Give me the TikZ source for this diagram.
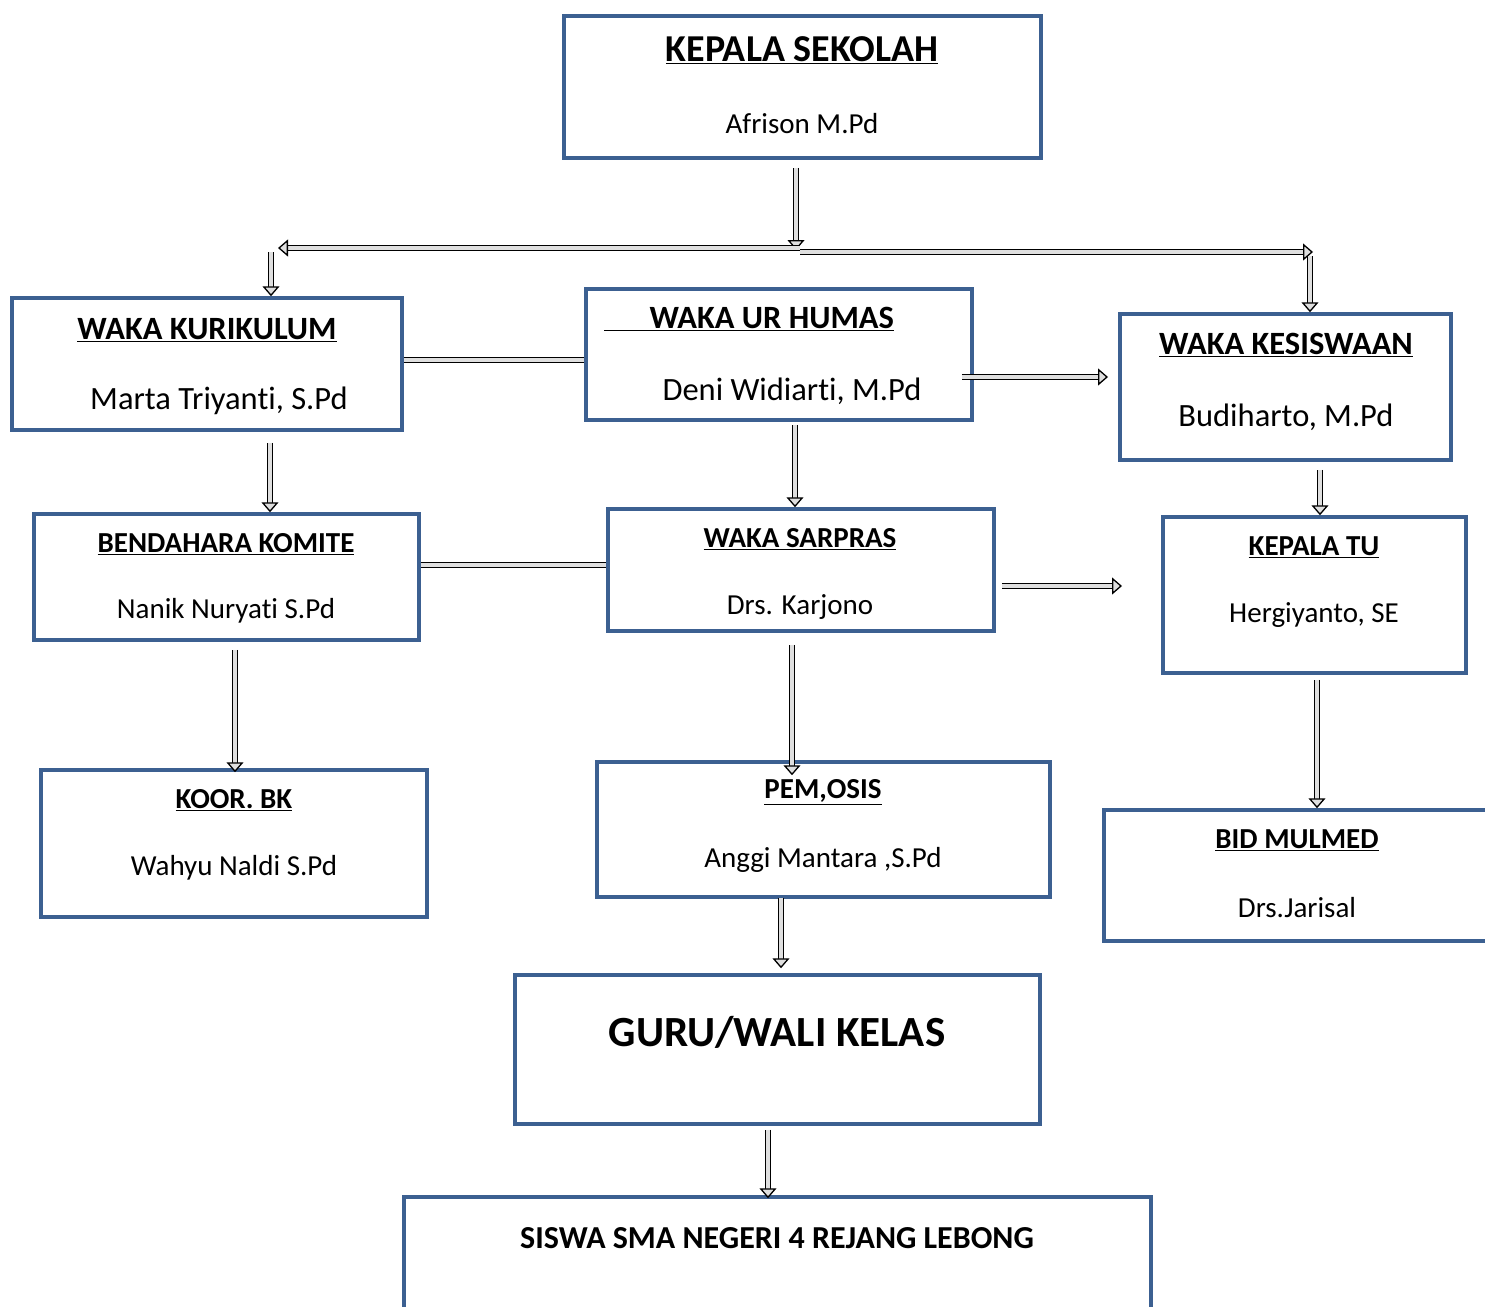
\documentclass[tikz,border=0pt]{standalone}
\usepackage{fontspec}
\setmainfont[Ligatures=NoCommon]{Carlito}
\usetikzlibrary{arrows.meta,calc}
\definecolor{boxblue}{RGB}{60,96,145}
\begin{document}
\begin{tikzpicture}[x=1pt,y=-1pt,
  box/.style={draw=boxblue,line width=3.5pt,rectangle,inner sep=0pt},
  barrow/.style={draw=black,line width=1.3pt,double=gray!25,double distance=4pt,
     -{Triangle[open,width=17pt,length=10pt,fill=gray!25,line width=1.3pt]}},
  bline/.style={draw=black,line width=1.3pt,double=gray!25,double distance=4pt},
  ttl/.style={font=\fontsize{29}{34}\selectfont\bfseries,inner sep=0pt},
  nm/.style={font=\fontsize{29}{34}\selectfont,inner sep=0pt}]
\useasboundingbox (0,0) rectangle (1485,1306);
% boxes
\node[box,minimum width=477,minimum height=142] (ks) at (802.5,87) {};
\node[box,minimum width=390,minimum height=132] (kur) at (207,364) {};
\node[box,minimum width=386,minimum height=131] (hum) at (779,354.5) {};
\node[box,minimum width=331,minimum height=146] (kes) at (1285.5,387) {};
\node[box,minimum width=385,minimum height=126] (ben) at (226.5,577) {};
\node[box,minimum width=386,minimum height=122] (sar) at (801,570) {};
\node[box,minimum width=303,minimum height=156] (tu) at (1314.5,595) {};
\node[box,minimum width=386,minimum height=147] (bk) at (234,843.5) {};
\node[box,minimum width=453,minimum height=135] (osis) at (823.5,829.5) {};
\node[box,minimum width=400,minimum height=131] (mul) at (1304,875.5) {};
\node[box,minimum width=525,minimum height=149] (guru) at (777.5,1049.5) {};
\node[box,minimum width=747,minimum height=124] (sis) at (777.5,1259) {};
% texts
\node[ttl,font=\fontsize{38}{44}\selectfont\bfseries] (tks) at (802,50) {\underline{KEPALA SEKOLAH}};
\node[nm] (nks) at (802,124) {Afrison M.Pd};
\node[ttl,font=\fontsize{32.5}{38}\selectfont\bfseries] (tkur) at (207,330) {\underline{WAKA KURIKULUM}};
\node[nm,font=\fontsize{32.5}{38}\selectfont] (nkur) at (219,401) {Marta Triyanti, S.Pd};
\node[ttl,font=\fontsize{32.5}{38}\selectfont\bfseries] (thum) at (749,319) {\underline{\hspace{1.4em}WAKA UR HUMAS}};
\node[nm,font=\fontsize{32.5}{38}\selectfont] (nhum) at (792,391) {Deni Widiarti, M.Pd};
\node[ttl,font=\fontsize{32.5}{38}\selectfont\bfseries] (tkes) at (1286,345) {\underline{WAKA KESISWAAN}};
\node[nm,font=\fontsize{32.5}{38}\selectfont] (nkes) at (1286,417) {Budiharto, M.Pd};
\node[ttl] (tben) at (226,544) {\underline{BENDAHARA KOMITE}};
\node[nm] (nben) at (226,611) {Nanik Nuryati S.Pd};
\node[ttl] (tsar) at (800,539) {\underline{WAKA SARPRAS}};
\node[nm] (nsar) at (800,607) {Drs. Karjono};
\node[ttl] (ttu) at (1314,547) {\underline{KEPALA TU}};
\node[nm] (ntu) at (1314,615) {Hergiyanto, SE};
\node[ttl] (tbk) at (234,800) {\underline{KOOR. BK}};
\node[nm] (nbk) at (234,868) {Wahyu Naldi S.Pd};
\node[ttl] (tosis) at (823,792) {\underline{PEM,OSIS}};
\node[nm] (nosis) at (823,860) {Anggi Mantara ,S.Pd};
\node[ttl] (tmul) at (1297,840) {\underline{BID MULMED}};
\node[nm] (nmul) at (1297,908) {Drs.Jarisal};
\node[ttl,font=\fontsize{43}{50}\selectfont\bfseries] (tguru) at (777,1032) {GURU/WALI KELAS};
\node[ttl,font=\fontsize{32}{38}\selectfont\bfseries] (tsis) at (777,1238) {SISWA SMA NEGERI 4 REJANG LEBONG};
% junction coordinates
\coordinate (jc) at (796,250);
\coordinate (jl) at (278,248);
\coordinate (jr) at (1313,252);
\coordinate (ekes) at (1108,377);
\coordinate (etu) at (1122,586);
% connectors
\draw[barrow] ($(ks.south)+(-6.5,8)$) -- (jc);
\draw[barrow] ($(jc)+(4,-2)$) -- (jl);
\draw[barrow] ($(jc)+(4,2)$) -- (jr);
\draw[barrow] ($(jl)+(-7,4)$) -- (kur.north -| 271,0);
\draw[barrow] ($(jr)+(-3,4)$) -- (kes.north -| 1310,0);
\draw[bline] (kur.east |- 0,360) -- (hum.west |- 0,360);
\draw[barrow] ($(hum.east)+(-12,22.5)$) -- (ekes);
\draw[barrow] ($(kur.south)+(63,11)$) -- (ben.north -| 270,0);
\draw[barrow] ($(hum.south)+(16,3)$) -- (sar.north -| 795,0);
\draw[barrow] ($(kes.south)+(34.5,8)$) -- (tu.north -| 1320,0);
\draw[bline] (ben.east |- 0,565) -- (sar.west |- 0,565);
\draw[barrow] ($(sar.east)+(6,16)$) -- (etu);
\draw[barrow] ($(ben.south)+(8.5,8)$) -- ($(bk.north -| 235,0)+(0,4)$);
\draw[barrow] ($(sar.south)+(-9,12)$) -- ($(osis.north -| 792,0)+(0,15)$);
\draw[barrow] ($(tu.south)+(2.5,5)$) -- (mul.north -| 1317,0);
\draw[barrow] ($(osis.south)+(-42.5,-1)$) -- ($(guru.north -| 781,0)+(0,-5)$);
\draw[barrow] ($(guru.south)+(-9.5,4)$) -- ($(sis.north -| 768,0)+(0,3)$);
\end{tikzpicture}
\end{document}
